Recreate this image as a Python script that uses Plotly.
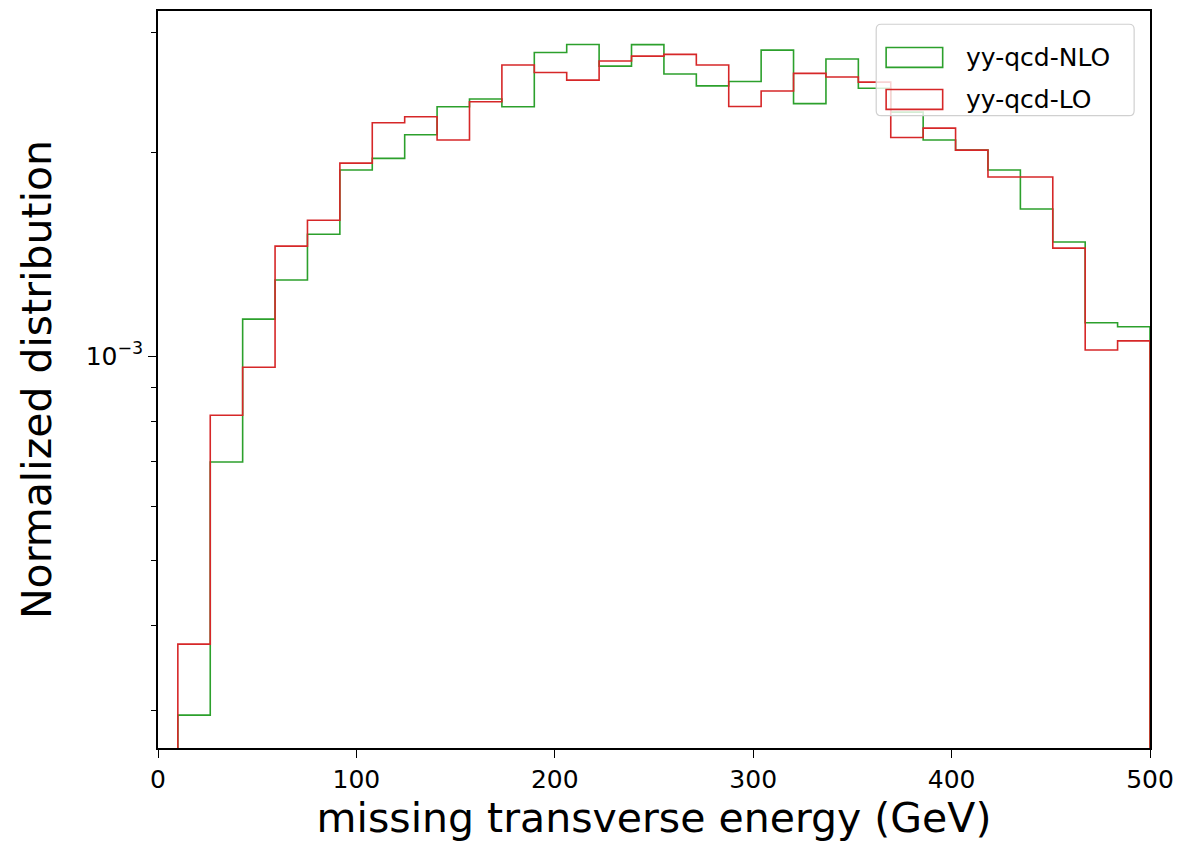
import numpy as np
import plotly.graph_objects as go

# ---- data ----
bin_low, bin_high, n_bins = 10.0, 500.0, 30
series_names = ["yy-qcd-NLO", "yy-qcd-LO"]
series_colors = ["#2ca02c", "#d62728"]

nlo_values = [2.955e-4, 6.98e-4, 1.134e-3, 1.295e-3, 1.513e-3, 1.881e-3, 1.957e-3, 2.121e-3,
              2.332e-3, 2.394e-3, 2.332e-3, 2.804e-3, 2.882e-3, 2.677e-3, 2.880e-3, 2.606e-3,
              2.504e-3, 2.541e-3, 2.827e-3, 2.357e-3, 2.743e-3, 2.483e-3, 2.290e-3, 2.083e-3,
              2.013e-3, 1.881e-3, 1.648e-3, 1.473e-3, 1.120e-3, 1.105e-3]
lo_values = [3.76e-4, 8.18e-4, 9.63e-4, 1.453e-3, 1.586e-3, 1.926e-3, 2.209e-3, 2.254e-3,
             2.083e-3, 2.372e-3, 2.687e-3, 2.620e-3, 2.553e-3, 2.724e-3, 2.770e-3, 2.786e-3,
             2.687e-3, 2.334e-3, 2.460e-3, 2.612e-3, 2.580e-3, 2.536e-3, 2.101e-3, 2.169e-3,
             2.013e-3, 1.837e-3, 1.837e-3, 1.443e-3, 1.021e-3, 1.053e-3]

x_ticks = [0, 100, 200, 300, 400, 500]
y_major = [1e-3]
y_major_text = ["10<sup>\u22123</sup>"]
y_minor = [3e-4, 4e-4, 5e-4, 6e-4, 7e-4, 8e-4, 9e-4, 2e-3, 3e-3]
x_range = [0, 500]
y_range_log = [-3.578, -2.491]
baseline = 1e-9

edges = np.linspace(bin_low, bin_high, n_bins + 1)


def step_outline(edges, vals, base):
    xs, ys = [edges[0]], [base]
    for i, v in enumerate(vals):
        xs += [edges[i], edges[i + 1]]
        ys += [v, v]
    xs.append(edges[-1])
    ys.append(base)
    return xs, ys


fig = go.Figure()
for name, vals, col in zip(series_names, [nlo_values, lo_values], series_colors):
    xs, ys = step_outline(edges, vals, baseline)
    fig.add_trace(go.Scatter(x=xs, y=ys, mode="lines", name=name,
                             line=dict(color=col, width=1.6), showlegend=False,
                             hoverinfo="skip"))

font_family = "DejaVu Sans"
axis_common = dict(ticks="outside", ticklen=8, tickwidth=1.3, tickcolor="black",
                   showline=True, linecolor="black", linewidth=1.5, mirror=True,
                   showgrid=False, zeroline=False, layer="above traces", automargin=False,
                   tickfont=dict(size=25, family=font_family))
fig.update_layout(
    width=1177, height=846, autosize=False,
    margin=dict(l=158, r=27, t=11, b=98),
    paper_bgcolor="white", plot_bgcolor="white",
    font=dict(family=font_family, color="black"),
    xaxis=dict(range=x_range, tickvals=x_ticks, **axis_common,
               title=dict(text="missing transverse energy (GeV)",
                          font=dict(size=41, family=font_family), standoff=9)),
    yaxis=dict(type="log", range=y_range_log, tickmode="array", tickvals=y_major,
               ticktext=y_major_text, **axis_common,
               minor=dict(tickmode="array", tickvals=y_minor, ticks="outside", ticklen=5,
                          tickwidth=1.1, tickcolor="black", showgrid=False),
               title=dict(text="Normalized distribution",
                          font=dict(size=41, family=font_family), standoff=21)),
)

# custom legend (matplotlib-like, rectangle patches)
lg_x0, lg_x1, lg_y0, lg_y1 = 0.724, 0.984, 0.858, 0.982
rx, ry = 0.005, 0.0068
legend_path = (f"M {lg_x0+rx},{lg_y0} L {lg_x1-rx},{lg_y0} Q {lg_x1},{lg_y0} {lg_x1},{lg_y0+ry} "
               f"L {lg_x1},{lg_y1-ry} Q {lg_x1},{lg_y1} {lg_x1-rx},{lg_y1} "
               f"L {lg_x0+rx},{lg_y1} Q {lg_x0},{lg_y1} {lg_x0},{lg_y1-ry} "
               f"L {lg_x0},{lg_y0+ry} Q {lg_x0},{lg_y0} {lg_x0+rx},{lg_y0} Z")
fig.add_shape(type="path", xref="paper", yref="paper", path=legend_path,
              line=dict(color="#d0d0d0", width=1.2), fillcolor="rgba(255,255,255,0.8)",
              layer="above")
row_y = [0.937, 0.880]
for name, col, yy in zip(series_names, series_colors, row_y):
    fig.add_shape(type="rect", xref="paper", yref="paper", x0=0.734, x1=0.791,
                  y0=yy - 0.0135, y1=yy + 0.0135, line=dict(color=col, width=1.6),
                  fillcolor="rgba(0,0,0,0)", layer="above")
    fig.add_annotation(xref="paper", yref="paper", x=0.812, y=yy, text=name,
                       showarrow=False, xanchor="left", yanchor="middle",
                       font=dict(size=25, family=font_family, color="black"))

post = ("document.body.style.margin='0px';document.body.style.overflow='hidden';"
        "Plotly.relayout(document.getElementById('{plot_id}'), {width:1177, height:846});")
fig.write_html("out.html", post_script=post,
               config={"displayModeBar": False, "responsive": False})
